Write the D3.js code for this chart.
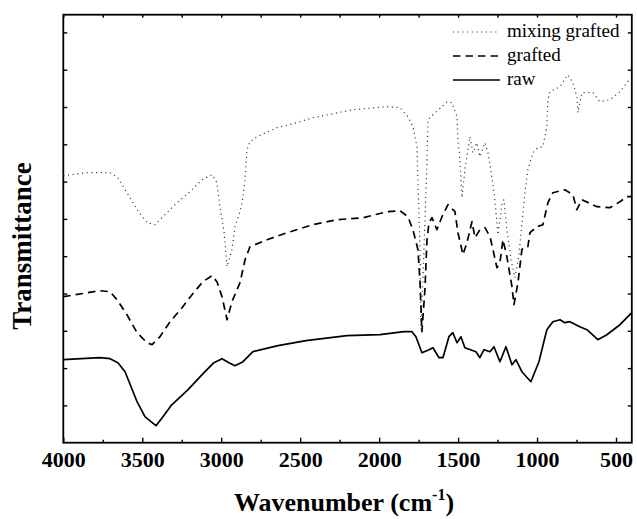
<!DOCTYPE html>
<html>
<head>
<meta charset="utf-8">
<script src="https://cdn.jsdelivr.net/npm/d3@7/dist/d3.min.js"></script>
<style>
  body { margin: 0; background: #fff; }
  text { font-family: "Liberation Serif", "Times New Roman", serif; fill: #000; }
</style>
</head>
<body>
<svg id="chart" width="637" height="519"></svg>
<script>
// FTIR spectra: [wavenumber (cm-1), transmittance (a.u., offset)]
const rawSpectrum = [
  [4000,83],[3768,85],[3704,84],[3654,80],[3609,71],[3571,56],[3533,41],[3483,26],
  [3445,21],[3413,17],[3369,26],[3318,37],[3210,53],[3109,70],[3046,80],[2995,84],
  [2951,80],[2913,77],[2862,81],[2799,91],[2640,97],[2463,102],[2204,107],[1994,108],
  [1843,111],[1792,111],[1767,106],[1729,90],[1684,93],[1659,95],[1621,85],[1596,85],
  [1558,106],[1533,110],[1507,100],[1482,106],[1457,95],[1387,91],[1362,85],[1336,93],
  [1298,91],[1273,96],[1235,81],[1197,96],[1159,78],[1134,83],[1096,71],[1039,61],
  [988,81],[938,113],[900,121],[855,123],[824,120],[792,121],[729,116],[684,113],
  [615,103],[558,108],[475,118],[400,130]
];

const graftedSpectrum = [
  [4000,146],[3768,152],[3704,151],[3660,143],[3597,128],[3533,110],[3470,100],[3438,98],
  [3388,106],[3324,121],[3248,135],[3185,148],[3116,161],[3058,167],[3027,161],[2995,146],
  [2963,123],[2932,141],[2881,160],[2849,183],[2818,196],[2710,203],[2583,210],[2419,218],
  [2267,223],[2102,225],[1950,231],[1868,232],[1818,226],[1786,213],[1754,193],[1741,160],
  [1729,111],[1710,153],[1697,203],[1684,220],[1665,225],[1634,213],[1602,226],[1564,238],
  [1520,231],[1501,210],[1469,188],[1444,200],[1412,221],[1393,205],[1362,213],[1330,215],
  [1298,206],[1279,193],[1254,175],[1235,180],[1216,203],[1191,186],[1159,156],[1146,138],
  [1121,160],[1096,193],[1077,196],[1058,196],[1045,210],[1001,216],[963,218],[931,240],
  [900,250],[824,253],[773,248],[748,233],[716,243],[621,236],[539,235],[475,241],
  [431,246],[400,246]
];

const mixingSpectrum = [
  [4000,267],[3850,270],[3704,270],[3654,265],[3597,250],[3533,233],[3470,220],[3419,218],
  [3369,226],[3280,240],[3198,251],[3122,263],[3058,268],[3027,260],[3008,236],[2982,211],
  [2963,176],[2932,193],[2913,216],[2881,231],[2868,240],[2849,263],[2837,293],[2818,301],
  [2773,306],[2647,315],[2545,319],[2419,325],[2165,333],[1950,336],[1868,335],[1818,326],
  [1786,316],[1760,296],[1754,260],[1741,193],[1735,113],[1716,193],[1697,283],[1691,323],
  [1659,328],[1602,336],[1570,341],[1539,340],[1507,326],[1501,303],[1488,283],[1476,245],
  [1457,273],[1425,306],[1406,290],[1381,300],[1362,286],[1330,300],[1311,290],[1286,266],
  [1267,243],[1248,208],[1222,238],[1210,243],[1191,213],[1165,183],[1140,165],[1115,188],
  [1090,228],[1077,250],[1058,273],[1026,290],[995,295],[963,296],[938,316],[931,343],
  [919,351],[855,356],[805,368],[773,360],[748,346],[741,330],[716,350],[646,350],
  [602,341],[539,343],[475,351],[425,361],[400,365]
];

const seriesNames = ["mixing grafted", "grafted", "raw"];
const xMajorTicks = [4000, 3500, 3000, 2500, 2000, 1500, 1000, 500];
const xMinorTicks = [3750, 3250, 2750, 2250, 1750, 1250, 750];
const yTickStep = 37.3;

const svg = d3.select("#chart");
const mLeft = 63.3, mRight = 631.8, mTop = 14.7, mBottom = 442.7;

const x = d3.scaleLinear().domain([4000, 400]).range([mLeft, mRight]);
const y = d3.scaleLinear().domain([0, 428]).range([mBottom, mTop]);

// axes, ticks pointing inward, no labels except bottom
function clean(g) { g.select(".domain").remove(); g.selectAll(".tick line").attr("stroke", "#000").attr("stroke-width", 1.4); }

svg.append("g").attr("transform", `translate(0,${mBottom})`)
  .call(d3.axisBottom(x).tickValues(xMajorTicks).tickSize(-5).tickPadding(9).tickFormat(d3.format("d")))
  .call(clean)
  .call(g => g.attr("font-family", null).selectAll("text")
    .style("font-size", "22px").style("font-weight", "bold"));
svg.append("g").attr("transform", `translate(0,${mBottom})`)
  .call(d3.axisBottom(x).tickValues(xMinorTicks).tickSize(-3).tickFormat(""))
  .call(clean);
svg.append("g").attr("transform", `translate(0,${mTop})`)
  .call(d3.axisTop(x).tickValues(xMajorTicks.concat(xMinorTicks)).tickSize(-3).tickFormat(""))
  .call(clean);

const yTicks = d3.range(yTickStep, 428, yTickStep);
svg.append("g").attr("transform", `translate(${mLeft},0)`)
  .call(d3.axisLeft(y).tickValues(yTicks).tickSize(-4).tickFormat(""))
  .call(clean);
svg.append("g").attr("transform", `translate(${mRight},0)`)
  .call(d3.axisRight(y).tickValues(yTicks).tickSize(-4).tickFormat(""))
  .call(clean);

svg.append("rect")
  .attr("x", mLeft).attr("y", mTop)
  .attr("width", mRight - mLeft).attr("height", mBottom - mTop)
  .attr("fill", "none").attr("stroke", "#000").attr("stroke-width", 1.8);

// spectra
const line = d3.line().x(d => x(d[0])).y(d => y(d[1]));
const styles = [
  { data: mixingSpectrum, dash: "1.1,3.6", width: 1.2, color: "#333" },
  { data: graftedSpectrum, dash: "7.5,5", width: 1.7, color: "#000" },
  { data: rawSpectrum, dash: null, width: 1.7, color: "#000" }
];
svg.selectAll("path.spec")
  .data(styles)
  .enter().append("path")
  .attr("class", "spec")
  .attr("d", d => line(d.data))
  .attr("fill", "none")
  .attr("stroke", d => d.color)
  .attr("stroke-width", d => d.width)
  .attr("stroke-dasharray", d => d.dash)
  .attr("stroke-linejoin", "round");

// legend
const legend = svg.append("g").attr("class", "legend");
seriesNames.forEach((name, i) => {
  const ly = 32 + i * 24;
  legend.append("line")
    .attr("x1", 453).attr("x2", 500).attr("y1", ly).attr("y2", ly)
    .attr("stroke", styles[i].color)
    .attr("stroke-width", styles[i].width)
    .attr("stroke-dasharray", styles[i].dash);
  legend.append("text")
    .attr("x", 507).attr("y", ly + 5)
    .style("font-size", "19px")
    .text(name);
});

// axis titles
const xt = svg.append("text")
  .attr("x", 344).attr("y", 511)
  .attr("text-anchor", "middle")
  .style("font-size", "26px").style("font-weight", "bold");
xt.append("tspan").text("Wavenumber (cm");
xt.append("tspan").attr("dy", -11).style("font-size", "16px").text("-1");
xt.append("tspan").attr("dy", 11).text(")");

svg.append("text")
  .attr("transform", "translate(31,246) rotate(-90)")
  .attr("text-anchor", "middle")
  .style("font-size", "27px").style("font-weight", "bold")
  .text("Transmittance");
</script>
</body>
</html>
